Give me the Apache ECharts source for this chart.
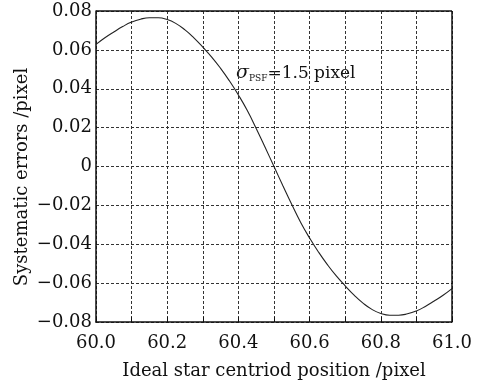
<!DOCTYPE html>
<html>
<head>
<meta charset="utf-8">
<script src="https://cdn.jsdelivr.net/npm/echarts@6/dist/echarts.min.js"></script>
<style>
  html, body { margin: 0; padding: 0; background: #fff; }
  #chart { width: 488px; height: 381px; }
</style>
</head>
<body>
<div id="chart"></div>
<script>
// 曲线数据
var xPos = [60.000, 60.025, 60.050, 60.075, 60.100, 60.125, 60.150, 60.175, 60.200, 60.225,
            60.250, 60.275, 60.300, 60.325, 60.350, 60.375, 60.400, 60.425, 60.450, 60.475,
            60.500, 60.525, 60.550, 60.575, 60.600, 60.625, 60.650, 60.675, 60.700, 60.725,
            60.750, 60.775, 60.800, 60.825, 60.850, 60.875, 60.900, 60.925, 60.950, 60.975, 61.000];
var errVals = [0.0628, 0.0662, 0.0692, 0.0720, 0.0743, 0.0758, 0.0765, 0.0765, 0.0756, 0.0735,
               0.0703, 0.0662, 0.0614, 0.0563, 0.0505, 0.0440, 0.0368, 0.0288, 0.0196, 0.0099,
               0.0000, -0.0099, -0.0196, -0.0288, -0.0368, -0.0440, -0.0505, -0.0563, -0.0614, -0.0662,
               -0.0703, -0.0735, -0.0756, -0.0765, -0.0765, -0.0758, -0.0743, -0.0720, -0.0692, -0.0662, -0.0628];
var xTicks = ['60.0', '60.2', '60.4', '60.6', '60.8', '61.0'];
var yTicks = ['-0.08', '-0.06', '-0.04', '-0.02', '0', '0.02', '0.04', '0.06', '0.08'];

var font = '"DejaVu Serif", "Liberation Serif", serif';
var chart = echarts.init(document.getElementById('chart'));

chart.setOption({
  animation: false,
  grid: { left: 96, right: 36, top: 11, bottom: 59, containLabel: false, outerBoundsMode: 'none' },
  xAxis: {
    type: 'value',
    min: 60, max: 61, interval: 0.1,
    name: 'Ideal star centriod position /pixel',
    nameLocation: 'middle',
    nameGap: 40,
    nameTextStyle: { fontFamily: font, fontSize: 18, color: '#111' },
    axisLine: { show: true, onZero: false, lineStyle: { color: '#111', width: 1.5 } },
    axisTick: { show: true, inside: true, length: 5, lineStyle: { color: '#111' } },
    axisLabel: {
      fontFamily: font, fontSize: 18, color: '#111', margin: 12,
      formatter: function (v) {
        var s = v.toFixed(1);
        return xTicks.indexOf(s) >= 0 ? s : '';
      }
    },
    splitLine: { show: true, lineStyle: { color: '#333', type: [3, 2], width: 1 } }
  },
  yAxis: {
    type: 'value',
    min: -0.08, max: 0.08, interval: 0.02,
    axisLine: { show: true, lineStyle: { color: '#111', width: 1.5 } },
    axisTick: { show: false },
    axisLabel: {
      fontFamily: font, fontSize: 18, color: '#111', margin: 4, padding: [5, 0, 0, 0],
      formatter: function (v) {
        var s = Math.abs(v) < 1e-9 ? '0' : v.toFixed(2);
        return yTicks.indexOf(s) >= 0 ? s.replace('-', '\u2212') : '';
      }
    },
    splitLine: { show: true, lineStyle: { color: '#333', type: [3, 2], width: 1 } }
  },
  series: [{
    type: 'line',
    smooth: true,
    symbol: 'none',
    data: xPos.map(function (x, i) { return [x, errVals[i]]; }),
    lineStyle: { color: '#222', width: 1.1 }
  }, {
    // 右边和上边框
    type: 'line', symbol: 'none', silent: true,
    data: [],
    markLine: {
      silent: true, symbol: 'none', label: { show: false },
      lineStyle: { color: '#111', width: 1.5, type: 'solid' },
      data: [
        [{ coord: [61, -0.08] }, { coord: [61, 0.08] }],
        [{ coord: [60, 0.08] }, { coord: [61, 0.08] }]
      ]
    }
  }],
  graphic: [{
    // y轴标题
    type: 'text',
    x: 22, y: 177,
    rotation: Math.PI / 2,
    style: {
      text: 'Systematic errors /pixel',
      fontFamily: font, fontSize: 18, fill: '#111',
      align: 'center', verticalAlign: 'middle'
    }
  }, {
    type: 'text',
    left: 236, top: 64,
    style: {
      text: '{s|σ}{sub|PSF}{t|=1.5 pixel}',
      rich: {
        s: { fontFamily: font, fontStyle: 'italic', fontSize: 19, fill: '#111' },
        sub: { fontFamily: font, fontSize: 9, fill: '#111', padding: [10, 0, 0, 0] },
        t: { fontFamily: font, fontSize: 17, fill: '#111' }
      }
    }
  }]
});
</script>
</body>
</html>
